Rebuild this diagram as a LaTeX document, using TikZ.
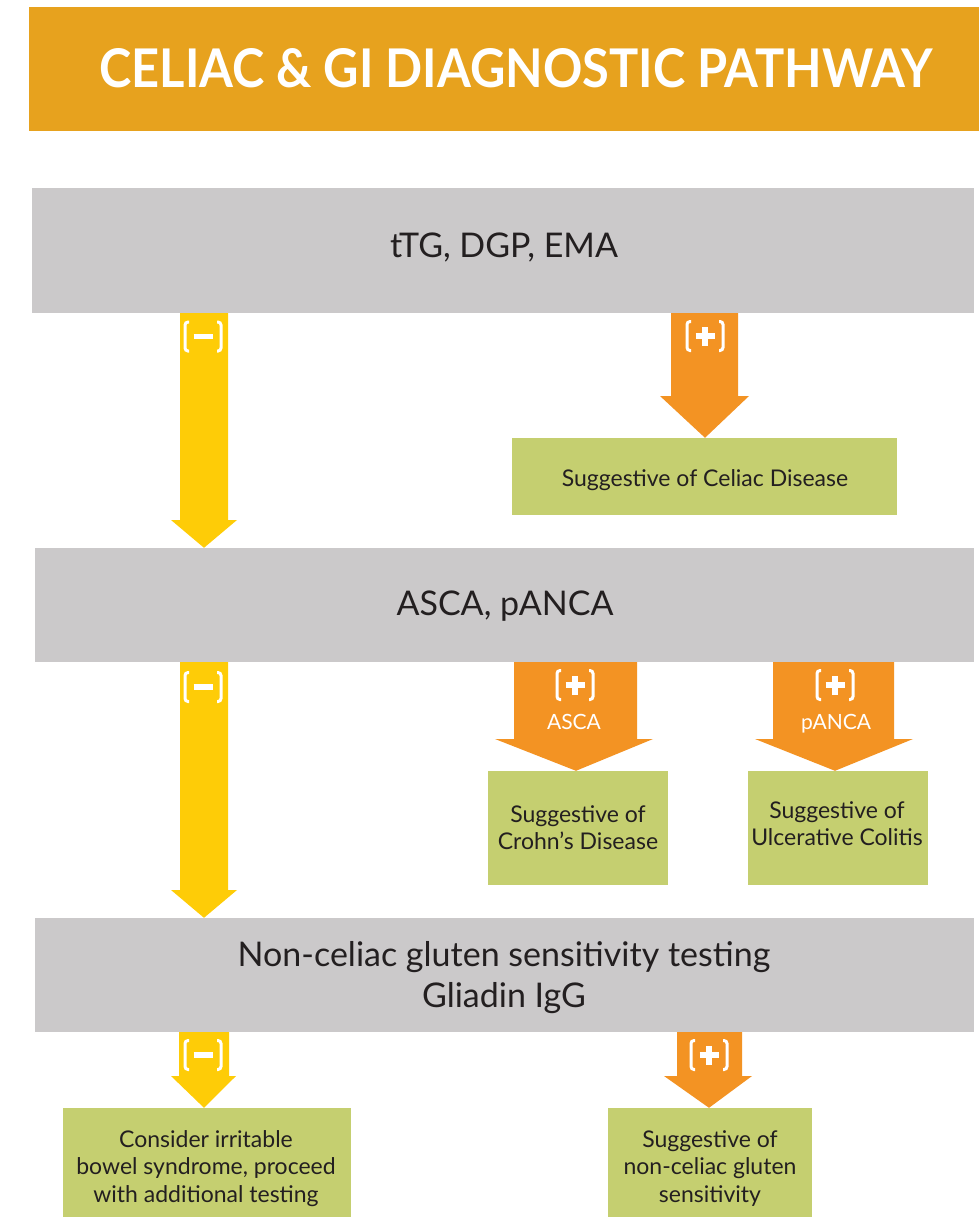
\documentclass[tikz,border=0pt]{standalone}
\usepackage{fontspec}
\setmainfont{Lato}
\definecolor{ctitle}{HTML}{E7A21E}
\definecolor{cgrey}{HTML}{CBC9CA}
\definecolor{cyellow}{HTML}{FECC07}
\definecolor{corange}{HTML}{F39323}
\definecolor{cgreen}{HTML}{C5CF70}
\definecolor{ctext}{HTML}{231F20}
\newcommand\signicon[3]{% name, x, y ; draws brackets
  \coordinate (#1) at (#2,#3);
  \draw[bracketline] ([xshift=-14pt,yshift=14.5pt]#1) -- ([xshift=-18pt,yshift=14.5pt]#1) -- ([xshift=-18pt,yshift=-14.5pt]#1) -- ([xshift=-14pt,yshift=-14.5pt]#1);
  \draw[bracketline] ([xshift=14pt,yshift=14.5pt]#1) -- ([xshift=18pt,yshift=14.5pt]#1) -- ([xshift=18pt,yshift=-14.5pt]#1) -- ([xshift=14pt,yshift=-14.5pt]#1);
  \draw[signline] ([xshift=-9.5pt]#1) -- ([xshift=9.5pt]#1);
}
\newcommand\plusicon[3]{%
  \signicon{#1}{#2}{#3}
  \draw[signline] ([yshift=-9.5pt]#1) -- ([yshift=9.5pt]#1);
}
\begin{document}
\begin{tikzpicture}[x=1pt,y=-1pt,
  titlebox/.style={fill=ctitle, inner sep=0pt},
  greybox/.style={fill=cgrey, inner sep=0pt},
  greenbox/.style={fill=cgreen, inner sep=0pt},
  bigtext/.style={text=ctext, inner sep=0pt, anchor=base, font=\fontsize{34}{40}\selectfont},
  smalltext/.style={text=ctext, inner sep=0pt, anchor=base, font=\fontsize{23}{27}\selectfont},
  labeltext/.style={text=white, inner sep=0pt, anchor=base, font=\fontsize{21}{25}\selectfont},
  yfill/.style={fill=cyellow},
  ofill/.style={fill=corange},
  bracketline/.style={draw=white, line width=3pt, rounded corners=3pt},
  signline/.style={draw=white, line width=5.5pt},
]
\useasboundingbox (0,0) rectangle (979,1217);

% boxes
\node[titlebox, minimum width=950pt, minimum height=124pt] (title) at (504,69) {};
\node[text=white, inner sep=0pt, anchor=base] (titletext) at (516,88)
  {\resizebox{833pt}{39pt}{\bfseries CELIAC \& GI DIAGNOSTIC PATHWAY}};

\node[greybox, minimum width=942pt, minimum height=125pt] (g1) at (503,250.5) {};
\node[greenbox, minimum width=385pt, minimum height=77pt] (c1) at (704.5,476.5) {};
\node[greybox, minimum width=939pt, minimum height=114pt] (g2) at (504.5,605) {};
\node[greenbox, minimum width=180pt, minimum height=114pt] (cd) at (578,828) {};
\node[greenbox, minimum width=180pt, minimum height=114pt] (uc) at (838,828) {};
\node[greybox, minimum width=939pt, minimum height=114pt] (g3) at (504.5,975) {};
\node[greenbox, minimum width=288pt, minimum height=109pt] (ibs) at (207,1162.5) {};
\node[greenbox, minimum width=204pt, minimum height=109pt] (ncgs) at (710,1162.5) {};

% texts
\node[bigtext] (t1) at (504,257) {tTG, DGP, EMA};
\node[bigtext] (t2) at (505,615) {ASCA, pANCA};
\node[bigtext] (t3a) at (504,966) {Non-celiac gluten sensitivity testing};
\node[bigtext] (t3b) at (504,1007) {Gliadin IgG};
\node[smalltext] (tc1) at (705,486) {Suggestive of Celiac Disease};
\node[smalltext] (tcda) at (578,822) {Suggestive of};
\node[smalltext] (tcdb) at (578,849) {Crohn’s Disease};
\node[smalltext] (tuca) at (837,818) {Suggestive of};
\node[smalltext] (tucb) at (837,845) {Ulcerative Colitis};
\node[smalltext] (tibsa) at (206,1147) {Consider irritable};
\node[smalltext] (tibsb) at (206,1174) {bowel syndrome, proceed};
\node[smalltext] (tibsc) at (206,1202) {with additional testing};
\node[smalltext] (tnca) at (710,1147) {Suggestive of};
\node[smalltext] (tncb) at (710,1174) {non-celiac gluten};
\node[smalltext] (tncc) at (710,1202) {sensitivity};

% arrows
\fill[yfill] (180,0 |- g1.south) -- (228,0 |- g1.south) -- (228,520) -- (237,520) -- (204,0 |- g2.north) -- (171,520) -- (180,520) -- cycle;
\fill[ofill] (671,0 |- g1.south) -- (738,0 |- g1.south) -- (738,396) -- (749,396) -- (705,0 |- c1.north) -- (660,396) -- (671,396) -- cycle;
\fill[yfill] (180,0 |- g2.south) -- (228,0 |- g2.south) -- (228,890) -- (237,890) -- (204,0 |- g3.north) -- (171,890) -- (180,890) -- cycle;
\fill[ofill] (514,0 |- g2.south) -- (637,0 |- g2.south) -- (637,739) -- (653,739) -- (576,0 |- cd.north) -- (495,739) -- (514,739) -- cycle;
\fill[ofill] (773,0 |- g2.south) -- (894,0 |- g2.south) -- (894,739) -- (913,739) -- (835,0 |- uc.north) -- (755,739) -- (773,739) -- cycle;
\fill[yfill] (179,0 |- g3.south) -- (229,0 |- g3.south) -- (229,1076) -- (236,1076) -- (204,0 |- ibs.north) -- (171,1076) -- (179,1076) -- cycle;
\fill[ofill] (677,0 |- g3.south) -- (742,0 |- g3.south) -- (742,1076) -- (752,1076) -- (709,0 |- ncgs.north) -- (664,1076) -- (677,1076) -- cycle;

% sign icons
\signicon{m1}{203}{336.5}
\plusicon{p1}{705}{336}
\signicon{m2}{203}{687}
\plusicon{p2}{575}{685}
\plusicon{p3}{835}{685}
\signicon{m3}{203}{1055}
\plusicon{p4}{709}{1055}

\node[labeltext] (la) at (574,729) {ASCA};
\node[labeltext] (lp) at (836,729) {pANCA};
\end{tikzpicture}
\end{document}
